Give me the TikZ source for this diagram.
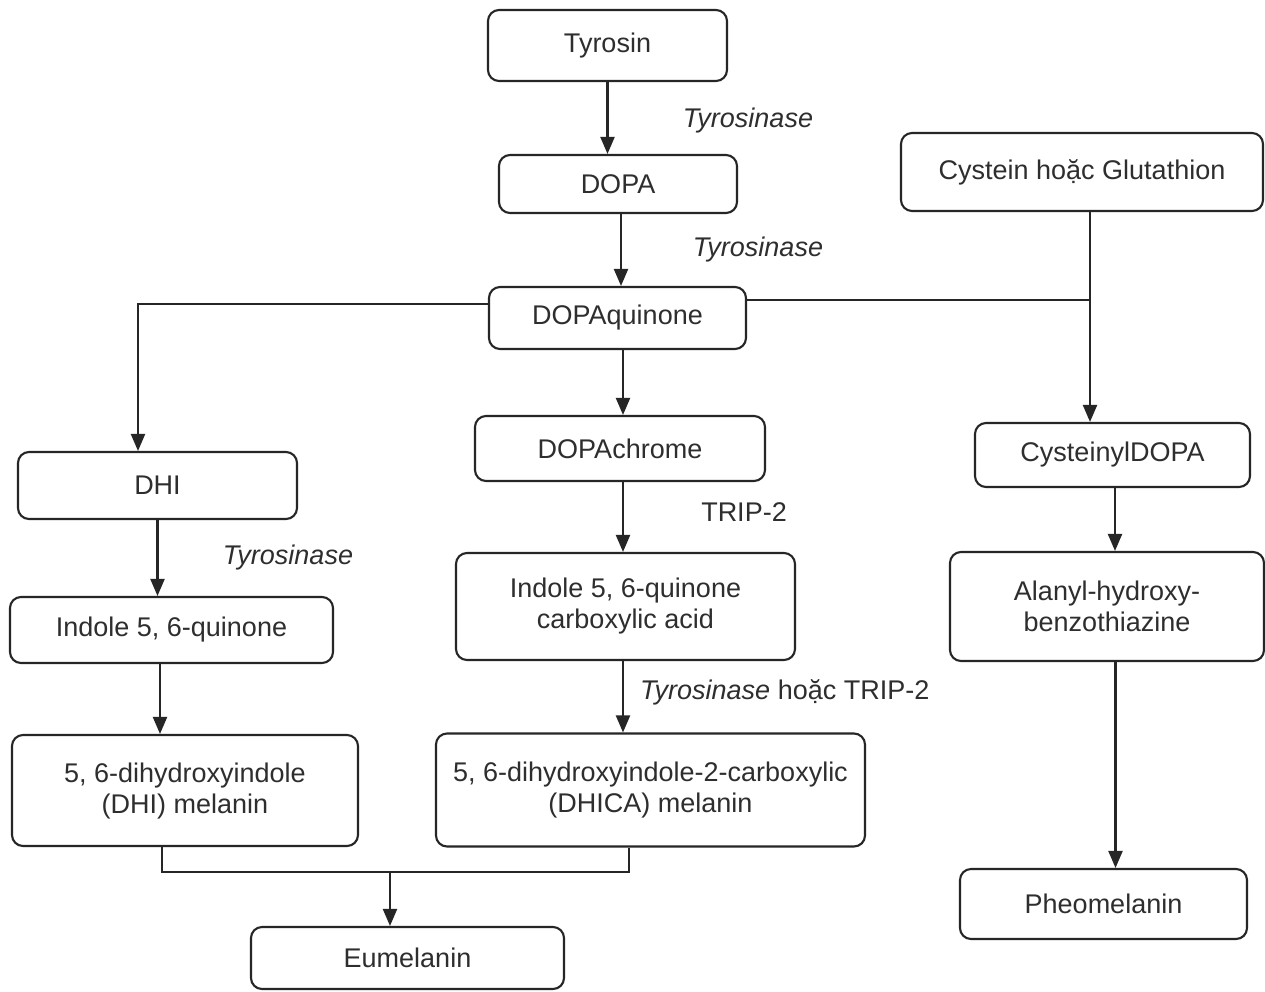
\documentclass[tikz,border=0pt]{standalone}
\usepackage{fontspec}
\setmainfont{Liberation Sans}
\usetikzlibrary{arrows.meta}
\definecolor{ink}{HTML}{262626}
\definecolor{txt}{HTML}{2E2E2E}
\begin{document}
\begin{tikzpicture}[x=1pt,y=-1pt,
  box/.style={draw=ink, line width=2.1pt, rounded corners=11pt, inner sep=0pt,
    align=center, text=txt, font=\fontsize{27}{31}\selectfont},
  lbl/.style={text=txt, font=\fontsize{27}{31}\selectfont, inner sep=0pt},
  conn/.style={draw=ink, line width=2.1pt},
  arr/.style={conn, -{Triangle[length=17pt,width=14pt]}}]
\fill[white] (0,0) rectangle (1265,991);
\useasboundingbox (0,0) rectangle (1265,991);

% boxes
\node[box, minimum width=239pt, minimum height=71pt] (tyr) at (607.5,45.5) {Tyrosin};
\node[box, minimum width=238pt, minimum height=58pt] (dopa) at (618,184) {DOPA};
\node[box, minimum width=257pt, minimum height=62pt] (dq) at (617.5,318) {DOPAquinone};
\node[box, minimum width=362pt, minimum height=78pt] (cys) at (1082,172) {Cystein hoặc Glutathion};
\node[box, minimum width=290pt, minimum height=65pt] (dc) at (620,448.5) {DOPAchrome};
\node[box, minimum width=275pt, minimum height=64pt] (cyd) at (1112.5,455) {CysteinylDOPA};
\node[box, minimum width=279pt, minimum height=67pt] (dhi) at (157.5,485.5) {DHI};
\node[box, minimum width=339pt, minimum height=107pt] (ic) at (625.5,606.5) {Indole 5, 6-quinone\\carboxylic acid};
\node[box, minimum width=314pt, minimum height=109pt] (al) at (1107,606.5) {Alanyl-hydroxy-\\benzothiazine};
\node[box, minimum width=323pt, minimum height=66pt] (iq) at (171.5,630) {Indole 5, 6-quinone};
\node[box, minimum width=346pt, minimum height=111pt] (dhim) at (185,790.5) {5, 6-dihydroxyindole\\(DHI) melanin};
\node[box, minimum width=429pt, minimum height=113pt] (dhica) at (650.5,790) {5, 6-dihydroxyindole-2-carboxylic\\(DHICA) melanin};
\node[box, minimum width=287pt, minimum height=70pt] (pheo) at (1103.5,904) {Pheomelanin};
\node[box, minimum width=313pt, minimum height=62pt] (eu) at (407.5,958) {Eumelanin};

% enzyme labels
\node[lbl, font=\fontsize{27}{31}\selectfont\itshape] (l1) at (748,121) {Tyrosinase};
\node[lbl, font=\fontsize{27}{31}\selectfont\itshape] (l2) at (758,250) {Tyrosinase};
\node[lbl] (l3) at (744,512) {TRIP-2};
\node[lbl, font=\fontsize{27}{31}\selectfont\itshape] (l4) at (288,558) {Tyrosinase};
\node[lbl, anchor=west] (l5) at (640,692) {\textit{Tyrosinase} hoặc TRIP-2};

% junction coordinates
\coordinate (jr) at (1090,300);
\coordinate (jl) at (390,872);

% connectors
\draw[arr] (tyr.south) -- (tyr.south |- dopa.north);
\draw[arr] ([xshift=3pt]dopa.south) -- ([xshift=3pt]dopa.south |- dq.north);
\draw[arr] ([xshift=5.5pt]dq.south) -- ([xshift=5.5pt]dq.south |- dc.north);
\draw[arr] ([xshift=3pt]dc.south) -- ([xshift=3pt]dc.south |- ic.north);
\draw[arr] ([xshift=-2.5pt]ic.south) -- ([xshift=-2.5pt]ic.south |- dhica.north);
\draw[arr] ([yshift=14pt]dq.west) -| ([xshift=-19.5pt]dhi.north);
\draw[conn] ([yshift=18pt]dq.east) -- (jr);
\draw[arr] ([xshift=8pt]cys.south) -- ([xshift=8pt]cys.south |- cyd.north);
\draw[arr] (dhi.south) -- (dhi.south |- iq.north);
\draw[arr] ([xshift=-11.5pt]iq.south) -- ([xshift=-11.5pt]iq.south |- dhim.north);
\draw[arr] ([xshift=2.5pt]cyd.south) -- ([xshift=2.5pt]cyd.south |- al.north);
\draw[arr] ([xshift=8.5pt]al.south) -- ([xshift=8.5pt]al.south |- pheo.north);
\draw[conn] ([xshift=-23pt]dhim.south) |- (jl) -| ([xshift=-21.5pt]dhica.south);
\draw[arr] (jl) -- (jl |- eu.north);
\end{tikzpicture}
\end{document}
